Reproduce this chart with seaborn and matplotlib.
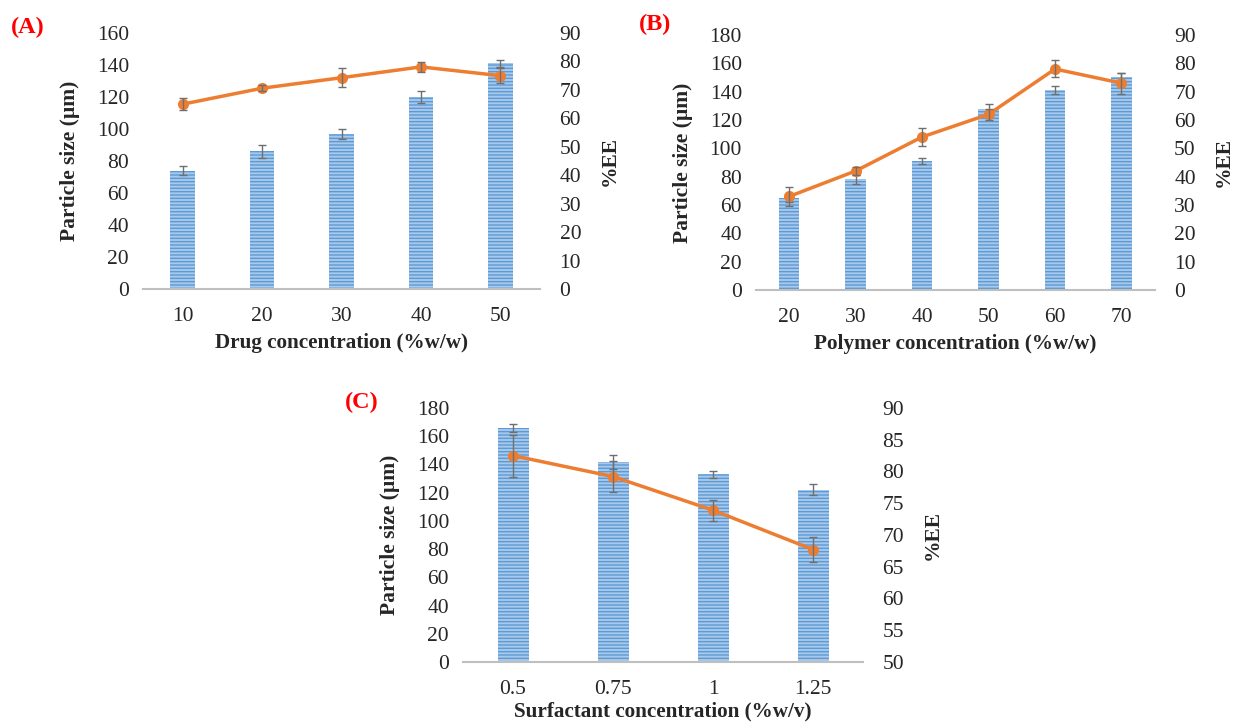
import matplotlib
matplotlib.use("Agg")
import matplotlib.pyplot as plt
import numpy as np
import seaborn as sns

# ---- data ----
drug_conc = ["10", "20", "30", "40", "50"]
drug_size = [74, 86, 97, 120, 141]
drug_size_err = [3, 4, 3, 4, 2]
drug_ee = [65, 70.6, 74.3, 78.1, 75]
drug_ee_err = [2, 1, 3.3, 1.8, 2.6]

poly_conc = ["20", "30", "40", "50", "60", "70"]
poly_size = [65, 78, 91, 128, 141, 150]
poly_size_err = [3, 3, 2, 3, 3, 3]
poly_ee = [33, 42, 54, 62, 78, 73]
poly_ee_err = [3.3, 1.5, 3.2, 2, 3, 3.7]

surf_conc = ["0.5", "0.75", "1", "1.25"]
surf_size = [166, 142, 133, 122]
surf_size_err = [3, 5, 2.4, 4]
surf_ee = [82.5, 79.2, 73.9, 67.7]
surf_ee_err = [3.3, 2.4, 1.65, 2]

sns.set_style("white")
plt.rcParams['font.family'] = ['Liberation Serif', 'DejaVu Serif']

BAR_FACE = '#A9C8EA'
BAR_HATCH = '#5B9BD5'
ORANGE = '#ED7D31'
ERR = '#6F6F6F'
FS = 15.5


def panel(fig, rect, cats, size, size_err, ee, ee_err, xlabel,
          ylim, yticks, ylim2, yticks2, tag, tag_xy, xpad=5):
    ax = fig.add_axes(rect)
    x = np.arange(len(cats))
    sns.barplot(x=cats, y=size, ax=ax, color=BAR_FACE, width=0.31,
                saturation=1, errorbar=None)
    for p in ax.patches:
        p.set_hatch('-----')
        p.set_edgecolor(BAR_HATCH)
        p.set_linewidth(0)
    ax.errorbar(x, size, yerr=size_err, fmt='none', ecolor=ERR,
                elinewidth=1, capsize=3, zorder=3)
    ax.set_xlim(-0.5, len(cats) - 0.5)
    ax.set_ylim(*ylim)
    ax.set_yticks(yticks)
    for s in ['top', 'right', 'left']:
        ax.spines[s].set_visible(False)
    ax.spines['bottom'].set_color('#BFBFBF')
    ax.spines['bottom'].set_linewidth(1.5)
    ax.tick_params(length=0, labelsize=FS, pad=10)
    ax.tick_params(axis='x', pad=13)
    ax.set_xlabel(xlabel, fontsize=15.2, fontweight='bold', labelpad=xpad)
    ax.set_ylabel("Particle size (\u00b5m)", fontsize=FS, fontweight='bold', labelpad=12)

    ax2 = ax.twinx()
    sns.lineplot(x=x, y=ee, ax=ax2, color=ORANGE, linewidth=2.5,
                 marker='o', markersize=8, markeredgewidth=0, zorder=4)
    ax2.errorbar(x, ee, yerr=ee_err, fmt='none', ecolor=ERR,
                 elinewidth=1, capsize=3, zorder=5)
    ax2.set_ylim(*ylim2)
    ax2.set_yticks(yticks2)
    for s in ['top', 'right', 'left', 'bottom']:
        ax2.spines[s].set_visible(False)
    ax2.tick_params(length=0, labelsize=FS, pad=14)
    ax2.set_ylabel("%EE", fontsize=FS, fontweight='bold', labelpad=13)
    ax2.set_xlim(-0.5, len(cats) - 0.5)
    fig.text(tag_xy[0], tag_xy[1], tag, color='red', fontsize=17.5,
             fontweight='bold', ha='left', va='center')


fig = plt.figure(figsize=(12.35, 7.23), dpi=100)

panel(fig, [0.1158, 0.6003, 0.3215, 0.354], drug_conc, drug_size, drug_size_err,
      drug_ee, drug_ee_err, "Drug concentration (%w/w)",
      (0, 160), range(0, 161, 20), (0, 90), range(0, 91, 10),
      "(A)", (0.009, 0.962))

panel(fig, [0.612, 0.5989, 0.323, 0.3527], poly_conc, poly_size, poly_size_err,
      poly_ee, poly_ee_err, "Polymer concentration (%w/w)",
      (0, 180), range(0, 181, 20), (0, 90), range(0, 91, 10),
      "(B)", (0.517, 0.966))

panel(fig, [0.3749, 0.0844, 0.3239, 0.3513], surf_conc, surf_size, surf_size_err,
      surf_ee, surf_ee_err, "Surfactant concentration (%w/v)",
      (0, 180), range(0, 181, 20), (50, 90), range(50, 91, 5),
      "(C)", (0.279, 0.443), xpad=2)

fig.savefig("out.png", dpi=100)
